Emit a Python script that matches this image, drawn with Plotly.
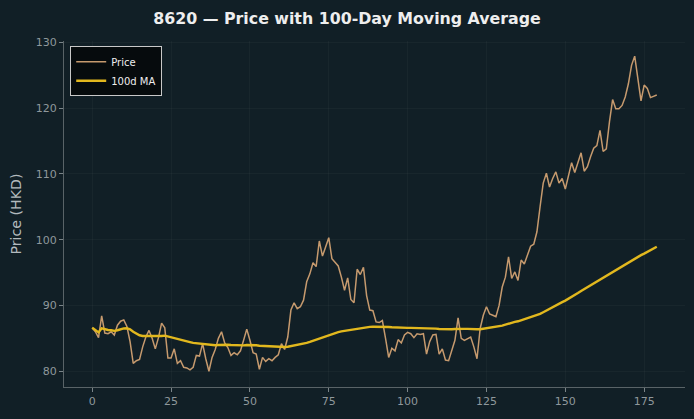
import numpy as np
import pandas as pd
import plotly.graph_objects as go

title = "8620 — Price with 100-Day Moving Average"
day = list(range(180))
price = [
    86.6, 86.0, 85.1, 88.4, 85.8, 85.7, 86.0, 85.5, 87.0, 87.6,
    87.8, 86.8, 84.5, 81.2, 81.6, 81.8, 83.7, 85.2, 86.2, 85.0,
    83.4, 85.1, 87.3, 86.6, 82.0, 82.0, 83.4, 81.2, 81.6, 80.6,
    80.5, 80.2, 80.6, 82.4, 82.3, 84.2, 81.9, 80.0, 82.1, 83.3,
    85.0, 86.0, 84.3, 83.6, 82.4, 82.8, 82.5, 83.1, 84.7, 86.4,
    84.7, 82.8, 82.6, 80.3, 82.1, 81.5, 81.9, 81.6, 82.1, 82.5,
    84.2, 83.3, 85.2, 89.3, 90.4, 89.5, 89.8, 90.8, 93.6, 94.8,
    96.5, 95.9, 99.8, 97.5, 98.9, 100.3, 97.1, 96.5, 96.0, 94.3,
    92.3, 94.2, 90.9, 90.4, 95.5, 94.7, 95.8, 91.5, 89.3, 89.2,
    87.5, 87.4, 87.7, 85.0, 82.1, 83.5, 83.1, 84.8, 84.3, 85.5,
    85.9, 85.7, 85.1, 85.7, 85.6, 85.7, 82.6, 84.5, 85.5, 85.6,
    82.6, 83.4, 81.7, 81.6, 83.3, 84.7, 88.1, 85.0, 84.7, 84.9,
    85.2, 83.7, 81.9, 86.5, 88.5, 89.8, 88.7, 88.5, 88.3, 90.0,
    92.8, 94.3, 97.4, 94.1, 95.1, 93.8, 96.9, 96.3, 97.7, 99.0,
    99.3, 101.2, 105.0, 108.6, 110.1, 108.0, 109.3, 110.3, 108.6, 109.3,
    107.7, 109.6, 111.7, 110.2, 111.8, 113.2, 110.4, 111.1, 112.6, 113.9,
    114.3, 116.6, 113.4, 113.8, 117.9, 121.3, 119.9, 119.9, 120.4, 121.7,
    123.7, 126.5, 127.9, 124.5, 121.1, 123.5, 123.0, 121.6, 121.8, 122.0,
]
ma_window = 100
ma = pd.Series(price).rolling(ma_window, min_periods=1).mean().tolist()

x_ticks = [0, 25, 50, 75, 100, 125, 150, 175]
y_ticks = [80, 90, 100, 110, 120, 130]

BG = "#111f26"
fig = go.Figure()
fig.add_trace(go.Scatter(x=day, y=price, mode="lines", name="Price",
                         line=dict(color="#c69a6e", width=1.5)))
fig.add_trace(go.Scatter(x=day, y=ma, mode="lines", name="100d MA",
                         line=dict(color="#e2b81e", width=2.4)))

axis_common = dict(
    showgrid=True, gridcolor="rgba(255,255,255,0.03)", gridwidth=1,
    zeroline=False, showline=True, linecolor="#596367", linewidth=1,
    ticks="outside", ticklen=4, tickcolor="#7a8488",
    tickfont=dict(family="DejaVu Sans", size=11, color="#8f989c"),
)
fig.update_layout(
    width=694, height=419,
    paper_bgcolor=BG, plot_bgcolor=BG,
    margin=dict(l=64, r=9, t=41, b=32),
    title=dict(text="<b>" + title + "</b>", x=0.5, xanchor="center", y=0.956, yanchor="middle",
               font=dict(family="DejaVu Sans", size=15.8, color="#eeeeee")),
    xaxis=dict(range=[-8.95, 187.95], tickvals=x_ticks, **axis_common),
    yaxis=dict(range=[77.6, 130.2], tickvals=y_ticks,
               title=dict(text="Price (HKD)", font=dict(family="DejaVu Sans", size=14.2, color="#b3babe"), standoff=10),
               **axis_common),
    legend=dict(x=0.01, y=0.985, xanchor="left", yanchor="top",
                bgcolor="#060b0d", bordercolor="#c8c8c8", borderwidth=1,
                font=dict(family="DejaVu Sans", size=10, color="#eeeeee"),
                itemwidth=30, tracegroupgap=0),
    showlegend=True,
)
fig.write_html("out.html")
